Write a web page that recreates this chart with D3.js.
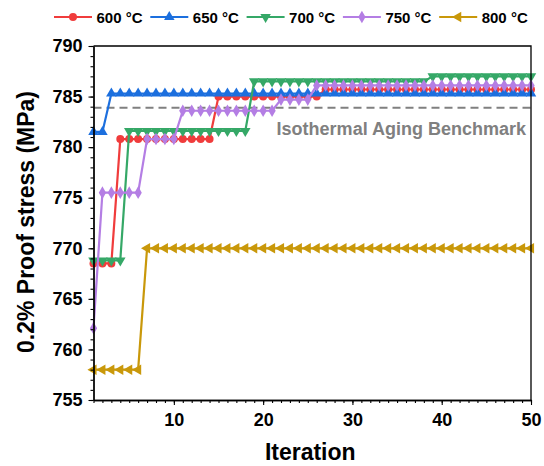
<!DOCTYPE html>
<html>
<head>
<meta charset="utf-8">
<script src="https://cdn.jsdelivr.net/npm/d3@7"></script>
<style>
  html, body { margin: 0; padding: 0; background: #fff; }
  svg { display: block; font-family: "Liberation Sans", Arial, sans-serif; }
</style>
</head>
<body>
<svg id="chart" width="544" height="466"></svg>
<script>
// Iteration index shared by every series
const iterations = [1,2,3,4,5,6,7,8,9,10,11,12,13,14,15,16,17,18,19,20,21,22,23,24,25,
  26,27,28,29,30,31,32,33,34,35,36,37,38,39,40,41,42,43,44,45,46,47,48,49,50];

// Best 0.2% proof stress found so far (MPa), per aging temperature
const stress600 = [768.5,768.5,768.5,780.8,780.8,780.8,780.8,780.8,780.8,780.8,780.8,780.8,780.8,780.8,
  785.0,785.0,785.0,785.0,785.0,785.0,785.0,785.0,785.0,785.0,785.0,785.0,
  785.7,785.7,785.7,785.7,785.7,785.7,785.7,785.7,785.7,785.7,785.7,785.7,785.7,785.7,785.7,785.7,
  785.7,785.7,785.7,785.7,785.7,785.7,785.7,785.7];
const stress650 = [781.5,781.5,785.3,785.3,785.3,785.3,785.3,785.3,785.3,785.3,785.3,785.3,785.3,785.3,
  785.3,785.3,785.3,785.3,785.3,785.3,785.3,785.3,785.3,785.3,785.3,785.3,785.3,785.3,785.3,785.3,
  785.3,785.3,785.3,785.3,785.3,785.3,785.3,785.3,785.3,785.3,785.3,785.3,785.3,785.3,785.3,785.3,
  785.3,785.3,785.3,785.3];
const stress700 = [768.8,768.8,768.8,768.8,781.6,781.6,781.6,781.6,781.6,781.6,781.6,781.6,781.6,781.6,
  781.6,781.6,781.6,781.6,786.5,786.5,786.5,786.5,786.5,786.5,786.5,786.5,786.5,786.5,786.5,786.5,
  786.5,786.5,786.5,786.5,786.5,786.5,786.5,786.5,787.0,787.0,787.0,787.0,787.0,787.0,787.0,787.0,
  787.0,787.0,787.0,787.0];
const stress750 = [762.1,775.5,775.5,775.5,775.5,775.5,780.8,780.8,780.8,780.8,783.6,783.6,783.6,783.6,
  783.6,783.6,783.6,783.6,783.6,783.6,783.6,784.7,784.7,784.7,784.7,786.1,786.1,786.1,786.1,786.1,
  786.1,786.1,786.1,786.1,786.1,786.1,786.1,786.1,786.1,786.1,786.1,786.1,786.1,786.1,786.1,786.1,
  786.1,786.1,786.1,786.1];
const stress800 = [758.0,758.0,758.0,758.0,758.0,758.0,770.0,770.0,770.0,770.0,770.0,770.0,770.0,770.0,
  770.0,770.0,770.0,770.0,770.0,770.0,770.0,770.0,770.0,770.0,770.0,770.0,770.0,770.0,770.0,770.0,
  770.0,770.0,770.0,770.0,770.0,770.0,770.0,770.0,770.0,770.0,770.0,770.0,770.0,770.0,770.0,770.0,
  770.0,770.0,770.0,770.0];

const seriesNames = ["600 \u00B0C", "650 \u00B0C", "700 \u00B0C", "750 \u00B0C", "800 \u00B0C"];
const benchmark = 783.9;
const benchmarkLabel = "Isothermal Aging Benchmark";

const yMajorTicks = [755, 760, 765, 770, 775, 780, 785, 790];
const xMajorTicks = [10, 20, 30, 40, 50];

// Styling per series: colour and marker shape
const colors = ["#f03c3c", "#1c6fde", "#35a867", "#b47ee4", "#c9980a"];
const symbols = [
  { type: d3.symbolCircle, size: 50, rotate: 0 },
  { type: d3.symbolTriangle, size: 48, rotate: 0 },
  { type: d3.symbolTriangle, size: 48, rotate: 180 },
  { type: d3.symbolDiamond, size: 46, rotate: 0 },
  { type: d3.symbolTriangle, size: 48, rotate: -90 }
];

const seriesValues = [stress600, stress650, stress700, stress750, stress800];
const series = seriesNames.map((name, i) => ({
  name,
  color: colors[i],
  symbol: symbols[i],
  points: iterations.map((it, j) => ({ x: it, y: seriesValues[i][j] }))
}));

const svg = d3.select("#chart");
const margin = { left: 93.5, right: 13, top: 46, bottom: 66 };
const W = 544, H = 466;

const x = d3.scaleLinear().domain([1, 50]).range([margin.left, W - margin.right]);
const y = d3.scaleLinear().domain([755, 790]).range([H - margin.bottom, margin.top]);

const x0 = x.range()[0], x1 = x.range()[1];
const yb = y.range()[0], yt = y.range()[1];

// Benchmark reference line
svg.append("line")
  .attr("x1", x0).attr("x2", x1)
  .attr("y1", y(benchmark)).attr("y2", y(benchmark))
  .attr("stroke", "#808080").attr("stroke-width", 2)
  .attr("stroke-dasharray", "8,5");

svg.append("text")
  .attr("x", x1 - 5).attr("y", y(benchmark) + 27)
  .attr("text-anchor", "end")
  .attr("font-size", 18).attr("font-weight", "bold")
  .attr("fill", "#808080")
  .text(benchmarkLabel);

// Series lines and markers
const line = d3.line().x(d => x(d.x)).y(d => y(d.y));
const symbolPath = s => d3.symbol().type(s.type).size(s.size)();

series.forEach(s => {
  const g = svg.append("g");
  g.append("path")
    .datum(s.points)
    .attr("d", line)
    .attr("fill", "none")
    .attr("stroke", s.color)
    .attr("stroke-width", 2.2);
  g.selectAll("path.mk")
    .data(s.points)
    .join("path")
    .attr("class", "mk")
    .attr("d", symbolPath(s.symbol))
    .attr("transform", d => `translate(${x(d.x)},${y(d.y)}) rotate(${s.symbol.rotate})`)
    .attr("fill", s.color);
});

// Axes: major and minor ticks, outward
const axisStyle = g => {
  g.selectAll("path.domain").attr("stroke", "#000").attr("stroke-width", 1.3);
  g.selectAll(".tick line").attr("stroke", "#000").attr("stroke-width", 1.1);
  g.selectAll(".tick text")
    .attr("fill", "#000")
    .attr("font-size", 18)
    .attr("font-weight", "bold")
    .attr("font-family", "Liberation Sans, Arial, sans-serif");
};

svg.append("g")
  .attr("transform", `translate(0,${yb})`)
  .call(d3.axisBottom(x).tickValues(iterations).tickSize(3).tickFormat("").tickSizeOuter(0))
  .call(axisStyle);
svg.append("g")
  .attr("transform", `translate(0,${yb})`)
  .call(d3.axisBottom(x).tickValues(xMajorTicks).tickSize(5).tickPadding(8).tickSizeOuter(0))
  .call(axisStyle);

const yMinor = d3.range(755, 791, 1);
svg.append("g")
  .attr("transform", `translate(${x0},0)`)
  .call(d3.axisLeft(y).tickValues(yMinor).tickSize(3).tickFormat("").tickSizeOuter(0))
  .call(axisStyle);
svg.append("g")
  .attr("transform", `translate(${x0},0)`)
  .call(d3.axisLeft(y).tickValues(yMajorTicks).tickSize(5).tickPadding(6).tickSizeOuter(0))
  .call(axisStyle);

// Top and right frame
svg.append("path")
  .attr("d", `M${x0},${yt}H${x1}V${yb}`)
  .attr("fill", "none").attr("stroke", "#000").attr("stroke-width", 1.3);

// Axis titles
svg.append("text")
  .attr("x", (x0 + x1) / 2 - 2).attr("y", 460)
  .attr("text-anchor", "middle")
  .attr("font-size", 23).attr("font-weight", "bold")
  .text("Iteration");

svg.append("text")
  .attr("transform", `translate(34,${(yt + yb) / 2 - 1}) rotate(-90)`)
  .attr("text-anchor", "middle")
  .attr("font-size", 23).attr("font-weight", "bold")
  .text("0.2% Proof stress (MPa)");

// Legend across the top
const legend = svg.append("g");
series.forEach((s, i) => {
  const lx = 54 + 96.3 * i, ly = 17;
  const item = legend.append("g");
  item.append("line")
    .attr("x1", lx).attr("x2", lx + 38)
    .attr("y1", ly).attr("y2", ly)
    .attr("stroke", s.color).attr("stroke-width", 2.2);
  item.append("path")
    .attr("d", symbolPath(s.symbol))
    .attr("transform", `translate(${lx + 19},${ly}) rotate(${s.symbol.rotate})`)
    .attr("fill", s.color);
  item.append("text")
    .attr("x", lx + 42.5).attr("y", ly + 5.5)
    .attr("font-size", 15).attr("font-weight", "bold")
    .text(s.name);
});
</script>
</body>
</html>
